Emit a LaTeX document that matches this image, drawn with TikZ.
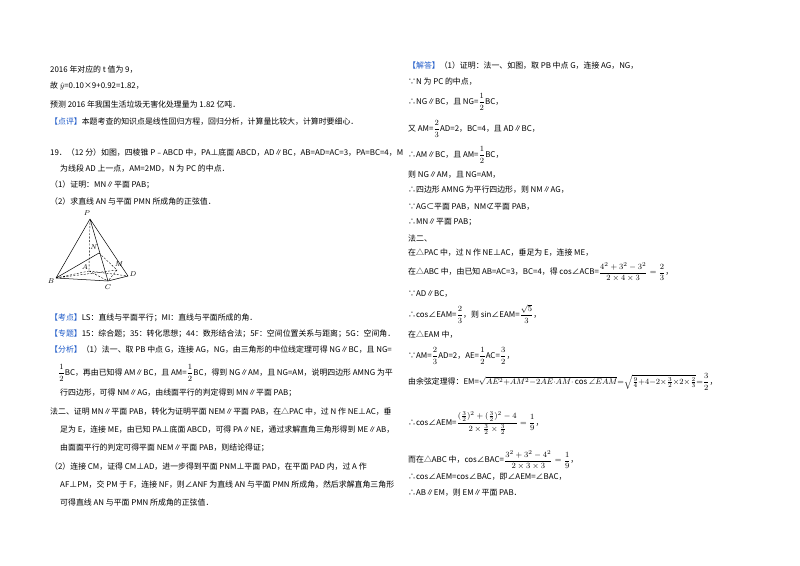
\documentclass[tikz,border=0pt]{standalone}
\usepackage{fontspec}
\usepackage{amsmath,amssymb}
\setmainfont{Noto Sans CJK SC}
\definecolor{tagblue}{RGB}{30,90,200}
\newcommand{\tg}[1]{\textcolor{tagblue}{【#1】}}
\newcommand{\fr}[2]{$\dfrac{#1}{#2}$}
\begin{document}
\begin{tikzpicture}[x=1pt,y=-1pt,
 tx/.style={anchor=west,inner sep=0pt,font=\fontsize{7.9}{9}\selectfont},
 lbl/.style={inner sep=0pt,font=\fontsize{7.5}{8}\selectfont},
 dl/.style={dashed,dash pattern=on 2pt off 1.5pt,line width=0.4pt},
 sl/.style={line width=0.5pt}]
\useasboundingbox[fill=white] (0,0) rectangle (800,565);
% left column
\node[tx] (l1) at (50,70) {2016 年对应的 t 值为 9，};
\node[tx] (l2) at (50,86) {故 $\hat{y}$=0.10×9+0.92=1.82，};
\node[tx] (l3) at (50,104) {预测 2016 年我国生活垃圾无害化处理量为 1.82 亿吨．};
\node[tx] (l4) at (50,122) {\tg{点评}本题考查的知识点是线性回归方程，回归分析，计算量比较大，计算时要细心．};
\node[tx] (l5) at (50,153) {19．（12 分）如图，四棱锥 P﹣ABCD 中，PA⊥底面 ABCD，AD∥BC，AB=AD=AC=3，PA=BC=4，M};
\node[tx] (l6) at (60,169) {为线段 AD 上一点，AM=2MD，N 为 PC 的中点．};
\node[tx] (l7) at (50,185) {（1）证明：MN∥平面 PAB；};
\node[tx] (l8) at (50,201) {（2）求直线 AN 与平面 PMN 所成角的正弦值．};
\node[tx] (l9) at (50,318) {\tg{考点}LS：直线与平面平行；MI：直线与平面所成的角．};
\node[tx] (l10) at (50,334) {\tg{专题}15：综合题；35：转化思想；44：数形结合法；5F：空间位置关系与距离；5G：空间角．};
\node[tx] (l11) at (50,350) {\tg{分析}（1）法一、取 PB 中点 G，连接 AG，NG，由三角形的中位线定理可得 NG∥BC，且 NG=};
\node[tx] (l12) at (58,373) {\fr12BC，再由已知得 AM∥BC，且 AM=\fr12BC，得到 NG∥AM，且 NG=AM，说明四边形 AMNG 为平};
\node[tx] (l13) at (60,393) {行四边形，可得 NM∥AG，由线面平行的判定得到 MN∥平面 PAB；};
\node[tx] (l14) at (50,412) {法二、证明 MN∥平面 PAB，转化为证明平面 NEM∥平面 PAB，在△PAC 中，过 N 作 NE⊥AC，垂};
\node[tx] (l15) at (60,430) {足为 E，连接 ME，由已知 PA⊥底面 ABCD，可得 PA∥NE，通过求解直角三角形得到 ME∥AB，};
\node[tx] (l16) at (60,448) {由面面平行的判定可得平面 NEM∥平面 PAB，则结论得证；};
\node[tx] (l17) at (50,467) {（2）连接 CM，证得 CM⊥AD，进一步得到平面 PNM⊥平面 PAD，在平面 PAD 内，过 A 作};
\node[tx] (l18) at (60,485) {AF⊥PM，交 PM 于 F，连接 NF，则∠ANF 为直线 AN 与平面 PMN 所成角，然后求解直角三角形};
\node[tx] (l19) at (60,503) {可得直线 AN 与平面 PMN 所成角的正弦值．};
% figure
\coordinate (P) at (90,219);
\coordinate (B) at (56,278);
\coordinate (C) at (108,281);
\coordinate (D) at (128,276);
\coordinate (A) at (89,271);
\coordinate (M) at (117,270);
\coordinate (N) at (99,253);
\draw[sl] (P)--(B) (P)--(C) (P)--(D) (B)--(C) (C)--(D) (B)--(N);
\draw[dl] (P)--(A) (A)--(B) (A)--(D) (A)--(C) (N)--(M) (B)--(M) (M)--(C);
\node[lbl] (nP) at (87,213) {$P$};
\node[lbl] (nB) at (51,281) {$B$};
\node[lbl] (nC) at (108,287) {$C$};
\node[lbl] (nD) at (133,274) {$D$};
\node[lbl] (nA) at (85,267) {$A$};
\node[lbl] (nM) at (119,264) {$M$};
\node[lbl] (nN) at (94,247) {$N$};
% right column
\node[tx] (r1) at (408,66) {\tg{解答}（1）证明：法一、如图，取 PB 中点 G，连接 AG，NG，};
\node[tx] (r2) at (408,82) {∵N 为 PC 的中点，};
\node[tx] (r3) at (408,102) {∴NG∥BC，且 NG=\fr12BC，};
\node[tx] (r4) at (408,129) {又 AM=\fr23AD=2，BC=4，且 AD∥BC，};
\node[tx] (r5) at (408,155) {∴AM∥BC，且 AM=\fr12BC，};
\node[tx] (r6) at (408,175) {则 NG∥AM，且 NG=AM，};
\node[tx] (r7) at (408,190) {∴四边形 AMNG 为平行四边形，则 NM∥AG，};
\node[tx] (r8) at (408,207) {∵AG⊂平面 PAB，NM⊄平面 PAB，};
\node[tx] (r9) at (408,222) {∴MN∥平面 PAB；};
\node[tx] (r10) at (408,238) {法二、};
\node[tx] (r11) at (408,253) {在△PAC 中，过 N 作 NE⊥AC，垂足为 E，连接 ME，};
\node[tx] (r12) at (408,272) {在△ABC 中，由已知 AB=AC=3，BC=4，得 cos∠ACB=$\dfrac{4^2+3^2-3^2}{2\times4\times3}=\dfrac23$，};
\node[tx] (r13) at (408,294) {∵AD∥BC，};
\node[tx] (r14) at (408,314) {∴cos∠EAM=\fr23，则 sin∠EAM=$\dfrac{\sqrt5}{3}$，};
\node[tx] (r15) at (408,335) {在△EAM 中，};
\node[tx] (r16) at (408,356) {∵AM=\fr23AD=2，AE=\fr12AC=\fr32，};
\node[tx] (r17) at (408,382) {由余弦定理得：EM=$\sqrt{AE^2{+}AM^2{-}2AE{\cdot}AM{\cdot}\cos\angle EAM}{=}\sqrt{\frac94{+}4{-}2{\times}\frac32{\times}2{\times}\frac23}{=}\dfrac32$，};
\node[tx] (r18) at (408,423) {∴cos∠AEM=$\dfrac{(\frac32)^2+(\frac32)^2-4}{2\times\frac32\times\frac32}=\dfrac19$，};
\node[tx] (r19) at (408,460) {而在△ABC 中，cos∠BAC=$\dfrac{3^2+3^2-4^2}{2\times3\times3}=\dfrac19$，};
\node[tx] (r20) at (408,477) {∴cos∠AEM=cos∠BAC，即∠AEM=∠BAC，};
\node[tx] (r21) at (408,493) {∴AB∥EM，则 EM∥平面 PAB．};
\end{tikzpicture}
\end{document}
